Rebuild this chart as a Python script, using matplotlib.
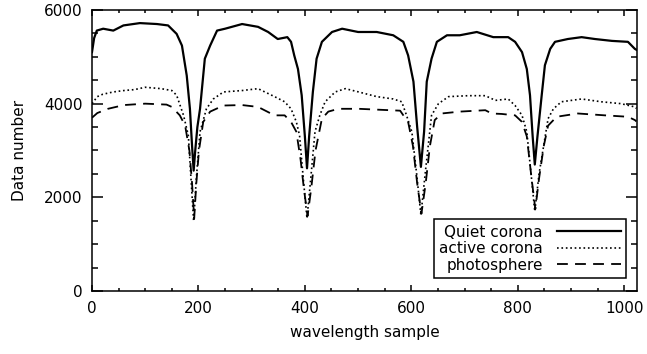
import numpy as np
import matplotlib
matplotlib.use('Agg')
import matplotlib.pyplot as plt
from matplotlib.ticker import MultipleLocator

# values
quiet_x = [0, 4, 9, 21, 40, 59, 90, 122, 143, 159, 169, 178, 184, 188, 191, 194, 198, 203, 212,
           222, 235, 250, 282, 312, 331, 349, 367, 374, 380, 387, 394, 400, 404, 408, 415, 422,
           432, 451, 470, 500, 535, 566, 585, 594, 604, 611, 618, 624, 629, 638, 648, 667, 691,
           723, 754, 782, 795, 808, 817, 823, 828, 832, 837, 845, 851, 861, 870, 894, 920, 945,
           977, 1007, 1020, 1023]
quiet_y = [5100, 5400, 5560, 5600, 5560, 5670, 5720, 5700, 5670, 5490, 5240, 4600, 3890, 3100,
           2570, 3000, 3500, 3890, 4960, 5240, 5560, 5600, 5700, 5640, 5530, 5380, 5420, 5320,
           5030, 4740, 4180, 3300, 2620, 3300, 4250, 4960, 5320, 5530, 5600, 5530, 5530, 5460,
           5320, 5030, 4470, 3500, 2650, 3400, 4470, 4960, 5320, 5460, 5460, 5530, 5420, 5420,
           5320, 5100, 4740, 4180, 3300, 2700, 3300, 4180, 4820, 5170, 5320, 5380, 5420, 5380,
           5340, 5320, 5170, 5150]

active_x = [0, 10, 20, 40, 60, 80, 100, 130, 150, 159, 172, 181, 186, 191, 196, 203, 215, 228,
            247, 282, 312, 343, 362, 374, 384, 390, 397, 404, 411, 419, 428, 438, 457, 476, 501,
            535, 566, 582, 591, 601, 610, 618, 626, 638, 651, 670, 707, 739, 758, 782, 795, 808,
            817, 825, 832, 840, 857, 867, 882, 920, 957, 994, 1020, 1023]
active_y = [4000, 4150, 4200, 4250, 4280, 4300, 4350, 4320, 4280, 4180, 3750, 3320, 2400, 1490,
            2400, 3400, 3890, 4100, 4250, 4280, 4320, 4150, 4040, 3890, 3610, 3320, 2400, 1550,
            2400, 3400, 3750, 4040, 4250, 4320, 4250, 4150, 4100, 4040, 3750, 3400, 2500, 1620,
            2500, 3750, 4000, 4150, 4170, 4170, 4070, 4100, 3960, 3750, 3400, 2500, 1700, 2500,
            3680, 3890, 4040, 4100, 4040, 4000, 3930, 3900]

photo_x = [0, 10, 30, 60, 100, 140, 150, 165, 175, 183, 188, 192, 196, 201, 209, 222, 247, 282,
           312, 343, 362, 374, 384, 392, 398, 405, 412, 420, 432, 444, 463, 501, 540, 579, 585,
           594, 603, 611, 619, 627, 635, 644, 657, 691, 739, 751, 770, 795, 808, 817, 826, 833,
           840, 849, 857, 873, 913, 964, 1007, 1020, 1023]
photo_y = [3700, 3800, 3890, 3970, 4000, 3980, 3930, 3750, 3530, 3000, 2300, 1550, 2300, 3000,
           3610, 3830, 3960, 3970, 3930, 3750, 3750, 3610, 3400, 2800, 2200, 1600, 2200, 3000,
           3680, 3830, 3890, 3890, 3870, 3850, 3750, 3610, 3100, 2300, 1650, 2300, 3100, 3650,
           3790, 3830, 3860, 3790, 3780, 3750, 3610, 3300, 2400, 1750, 2400, 3100, 3530, 3720,
           3790, 3750, 3720, 3650, 3620]

labels = ['Quiet corona', 'active corona', 'photosphere']

plt.rcParams['font.family'] = 'DejaVu Sans'
fig = plt.figure(figsize=(6.47, 3.54), dpi=100)
ax = fig.add_axes([0.1422, 0.178, 0.8423, 0.7938])

ax.plot(quiet_x, quiet_y, color='black', lw=1.6, label=labels[0])
ax.plot(active_x, active_y, color='black', lw=1.2, linestyle=':', label=labels[1])
ax.plot(photo_x, photo_y, color='black', lw=1.3, dashes=(6, 4), label=labels[2])

ax.set_xlim(0, 1024)
ax.set_ylim(0, 6000)
ax.xaxis.set_major_locator(MultipleLocator(200))
ax.xaxis.set_minor_locator(MultipleLocator(50))
ax.yaxis.set_major_locator(MultipleLocator(2000))
ax.yaxis.set_minor_locator(MultipleLocator(500))

ax.tick_params(axis='both', which='both', direction='in', top=True, right=True,
               labelsize=11, width=1.1, pad=7)
ax.tick_params(axis='x', which='major', length=4)
ax.tick_params(axis='x', which='minor', length=2)
ax.tick_params(axis='y', which='major', length=8)
ax.tick_params(axis='y', which='minor', length=4)
for s in ax.spines.values():
    s.set_linewidth(1.1)

ax.set_xlabel('wavelength sample', fontsize=11, labelpad=7)
ax.set_ylabel('Data number', fontsize=11, labelpad=12)

leg = ax.legend(loc='lower right', bbox_to_anchor=(0.98, 0.046), borderaxespad=0,
                markerfirst=False, fancybox=False, edgecolor='black', framealpha=1,
                fontsize=11, handlelength=4.2, labelspacing=0.1, borderpad=0.35,
                handletextpad=0.9)
leg.get_frame().set_linewidth(1.1)

fig.savefig('out.png', dpi=100)
